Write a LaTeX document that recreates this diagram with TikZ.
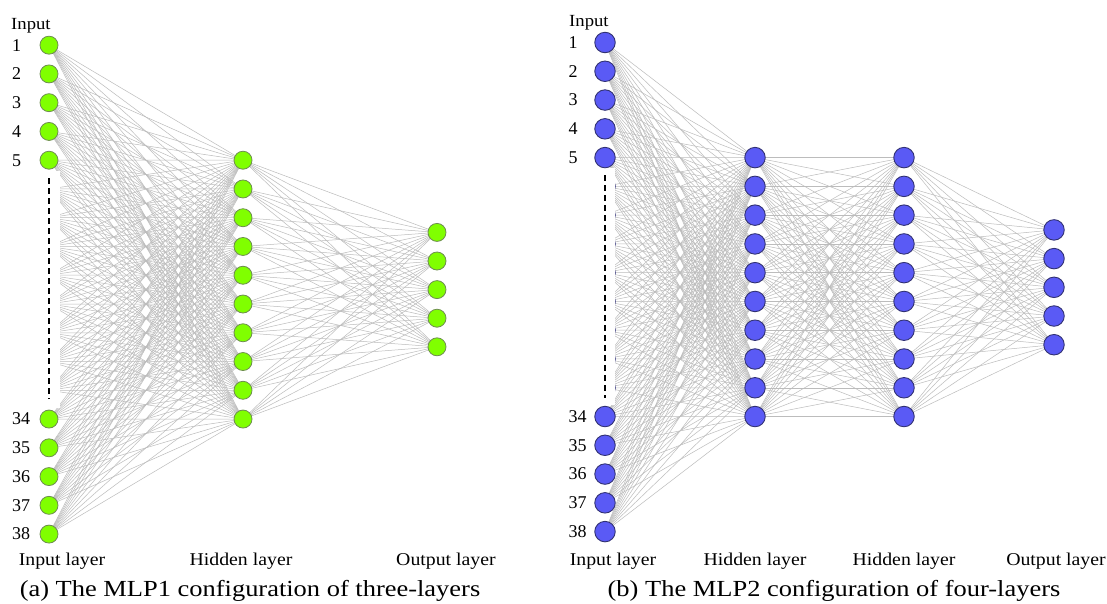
\documentclass[tikz,border=0pt]{standalone}
\usepackage{fontspec}
\setmainfont{Liberation Serif}
\newfontfamily\labfont[FakeStretch=1.1]{Liberation Serif}
\newfontfamily\capfont[FakeStretch=1.15]{Liberation Serif}
\definecolor{gfill}{RGB}{128,255,0}
\definecolor{gdraw}{RGB}{110,140,80}
\definecolor{bfill}{RGB}{90,90,245}
\definecolor{bdraw}{RGB}{50,50,115}
\definecolor{edgecol}{RGB}{188,188,188}
\pgfdeclarelayer{paper}
\pgfdeclarelayer{edges}
\pgfdeclarelayer{hid}
\pgfdeclarelayer{mask}
\pgfsetlayers{paper,edges,hid,mask,main}
\tikzset{
  edge/.style={draw=edgecol, line width=0.5pt},
  gnode/.style={circle, fill=gfill, draw=gdraw, line width=0.8pt, minimum size=18pt, inner sep=0pt},
  bnode/.style={circle, fill=bfill, draw=bdraw, line width=0.9pt, minimum size=20.5pt, inner sep=0pt},
  num/.style={anchor=west, font=\fontsize{18}{18}\selectfont, inner sep=0pt},
  inlab/.style={anchor=base west, font=\labfont\fontsize{17}{17}\selectfont, inner sep=0pt},
  lay/.style={anchor=base, font=\labfont\fontsize{18}{18}\selectfont, inner sep=0pt},
  captext/.style={anchor=base, font=\capfont\fontsize{23}{23}\selectfont, inner sep=0pt},
  vdash/.style={line width=2pt, dash pattern=on 6pt off 4pt},
}
\begin{document}
\begin{tikzpicture}[x=1pt,y=-1pt]
\useasboundingbox (0,0) rectangle (1107,603);
\begin{pgfonlayer}{paper}
\fill[white] (0,0) rectangle (1107,603);
\end{pgfonlayer}

% ---------------- Panel (a) ----------------
\foreach \k in {1,...,5,14,15,16,17,18}
  \node[gnode] (a-i\k) at (49,{45.16+28.76*(\k-1)}) {};
\begin{pgfonlayer}{hid}
\foreach \k in {6,...,13}
  \node[gnode] (a-i\k) at (49,{45.16+28.76*(\k-1)}) {};
\end{pgfonlayer}
\foreach \j in {1,...,10}
  \node[gnode] (a-h\j) at (243,{160.2+28.76*(\j-1)}) {};
\foreach \m in {1,...,5}
  \node[gnode] (a-o\m) at (437,{289.6+28.6*(\m-3)}) {};

\begin{pgfonlayer}{edges}
\foreach \k in {1,...,18}
  \foreach \j in {1,...,10}
    \draw[edge] (a-i\k.center) -- (a-h\j.center);
\foreach \j in {1,...,10}
  \foreach \m in {1,...,5}
    \draw[edge] (a-h\j.center) -- (a-o\m.center);
\end{pgfonlayer}
\begin{pgfonlayer}{mask}
\fill[white] (30,171) rectangle (59.8,408);
\end{pgfonlayer}
\coordinate (a-d1) at (49,178);
\coordinate (a-d2) at (49,399);
\draw[vdash] (a-d1) -- (a-d2);

\foreach \k/\t in {1/1,2/2,3/3,4/4,5/5,14/34,15/35,16/36,17/37,18/38}
  \node[num] (a-n\k) at (12,{45.16+28.76*(\k-1)}) {\t};
\node[inlab] (a-in) at (11,29) {Input};
\node[lay] (a-l1) at (62,565) {Input layer};
\node[lay] (a-l2) at (241,565) {Hidden layer};
\node[lay] (a-l3) at (446,565) {Output layer};
\node[captext] (a-cap) at (250,596.5) {(a) The MLP1 configuration of three-layers};

% ---------------- Panel (b) ----------------
\foreach \k in {1,...,5,14,15,16,17,18}
  \node[bnode] (b-i\k) at (605,{42.5+28.77*(\k-1)}) {};
\begin{pgfonlayer}{hid}
\foreach \k in {6,...,13}
  \node[bnode] (b-i\k) at (605,{42.5+28.77*(\k-1)}) {};
\end{pgfonlayer}
\foreach \j in {1,...,10} {
  \node[bnode] (b-h\j) at (755,{157.6+28.77*(\j-1)}) {};
  \node[bnode] (b-g\j) at (904,{157.6+28.77*(\j-1)}) {};
}
\foreach \m in {1,...,5}
  \node[bnode] (b-o\m) at (1054,{287.3+28.7*(\m-3)}) {};

\begin{pgfonlayer}{edges}
\foreach \k in {1,...,18}
  \foreach \j in {1,...,10}
    \draw[edge] (b-i\k.center) -- (b-h\j.center);
\foreach \j in {1,...,10}
  \foreach \l in {1,...,10}
    \draw[edge] (b-h\j.center) -- (b-g\l.center);
\foreach \j in {1,...,10}
  \foreach \m in {1,...,5}
    \draw[edge] (b-g\j.center) -- (b-o\m.center);
\end{pgfonlayer}
\begin{pgfonlayer}{mask}
\fill[white] (585,168) rectangle (614.6,405);
\end{pgfonlayer}
\coordinate (b-d1) at (605,175);
\coordinate (b-d2) at (605,398);
\draw[vdash] (b-d1) -- (b-d2);

\foreach \k/\t in {1/1,2/2,3/3,4/4,5/5,14/34,15/35,16/36,17/37,18/38}
  \node[num] (b-n\k) at (568.5,{42.5+28.77*(\k-1)}) {\t};
\node[inlab] (b-in) at (569,26) {Input};
\node[lay] (b-l1) at (613,565) {Input layer};
\node[lay] (b-l2) at (755,565) {Hidden layer};
\node[lay] (b-l3) at (904,565) {Hidden layer};
\node[lay] (b-l4) at (1056,565) {Output layer};
\node[captext] (b-cap) at (834,596.5) {(b) The MLP2 configuration of four-layers};
\end{tikzpicture}
\end{document}
